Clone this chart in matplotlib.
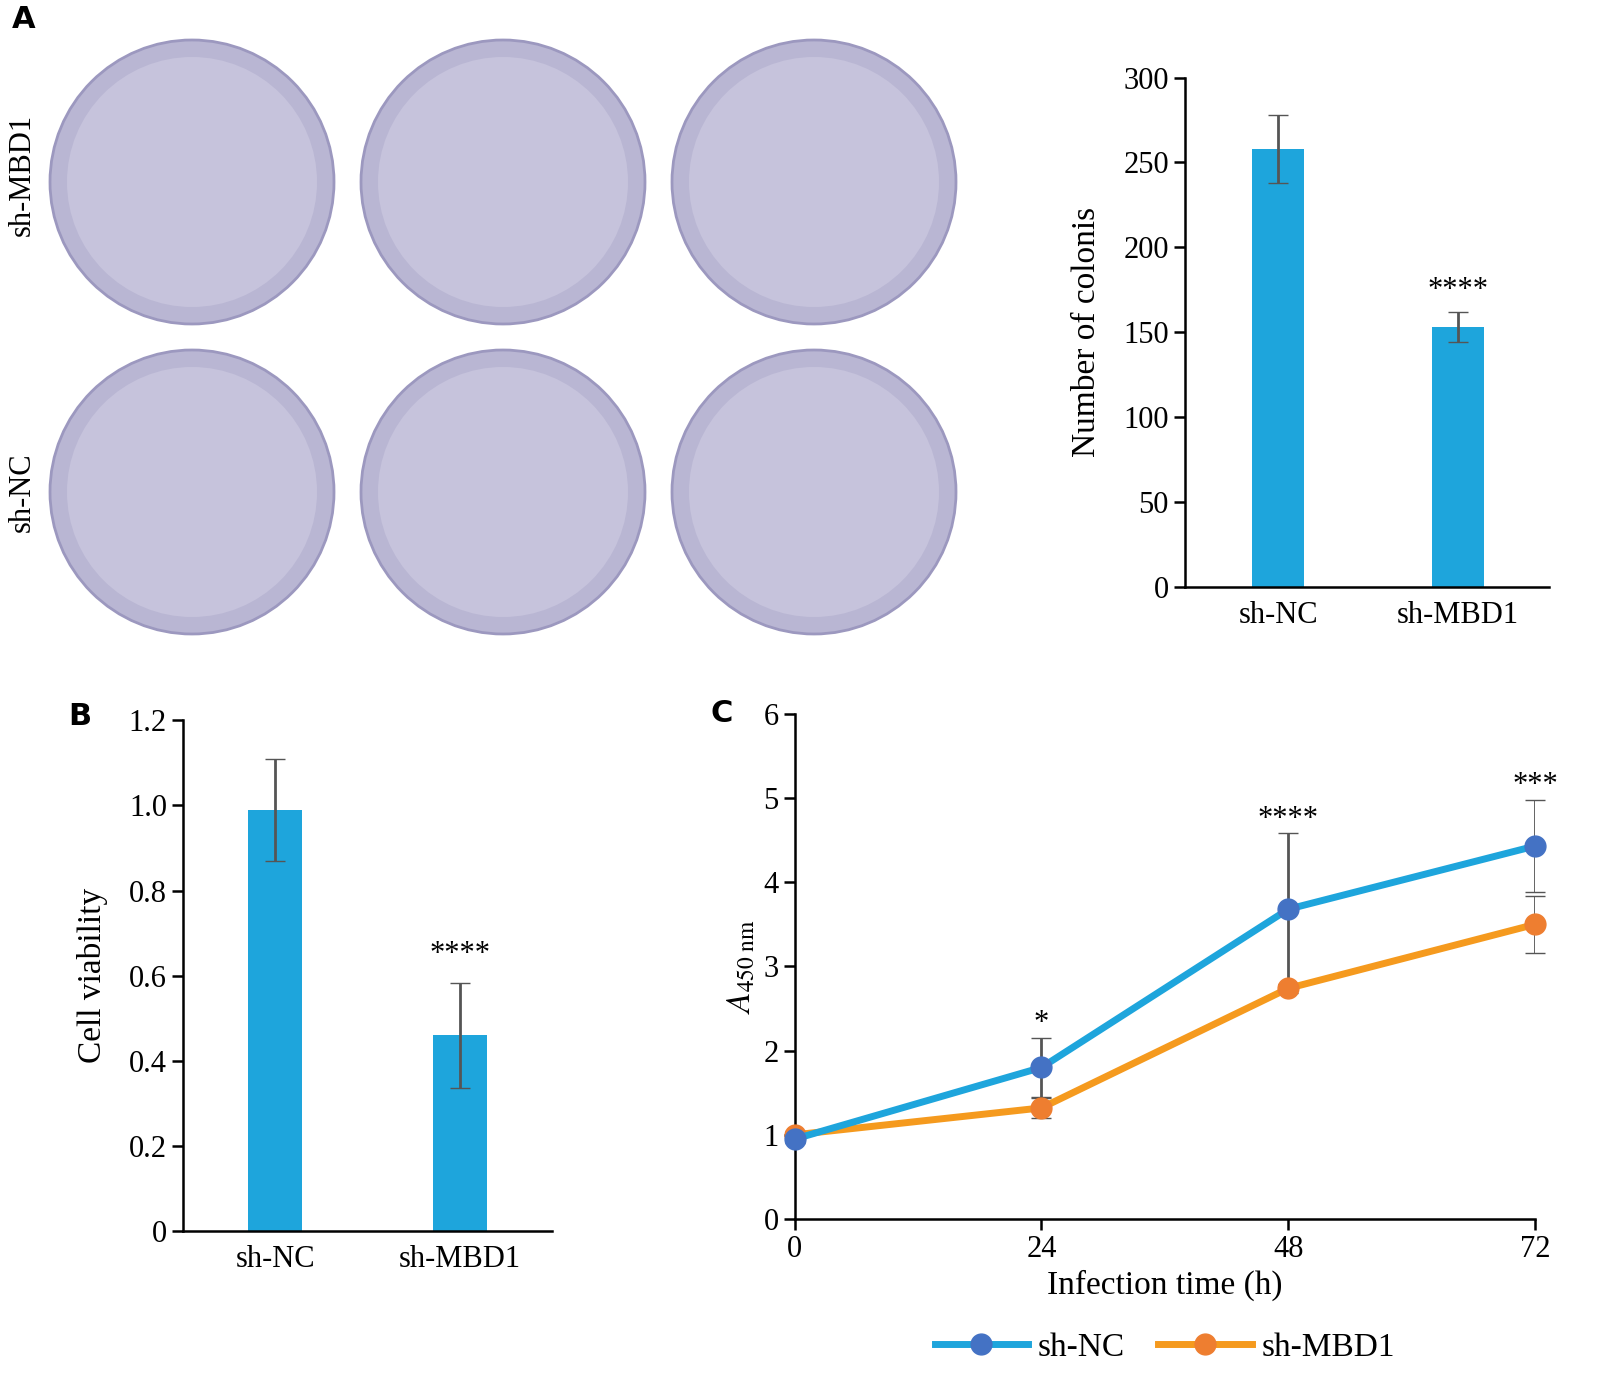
import matplotlib
matplotlib.use("Agg")
import matplotlib.pyplot as plt
from matplotlib.patches import Circle

plt.rcParams['font.family'] = ['Liberation Serif', 'DejaVu Serif']
plt.rcParams['mathtext.fontset'] = 'stix'
plt.rcParams['font.size'] = 20

# Panel A bars
groups = ["sh-NC", "sh-MBD1"]
colonies = [258, 153]
colonies_err = [20, 9]

# Panel B bars
viability = [0.99, 0.46]
viability_err = [0.12, 0.123]

# Panel C lines
hours = [0, 24, 48, 72]
nc_vals = [0.95, 1.80, 3.68, 4.43]
nc_err = [0.05, 0.35, 0.90, 0.55]
mbd_vals = [1.00, 1.32, 2.74, 3.50]
mbd_err = [0.05, 0.12, 0.05, 0.34]
c_stars = ["", "*", "****", "***"]

BAR = "#1EA5DC"
ERR = "#555555"

fig = plt.figure(figsize=(15.99, 13.84), dpi=100)

# plates (drawn, not photos)
axp = fig.add_axes([0, 0.5, 0.62, 0.5])
axp.set_xlim(0, 0.62 * 1599)
axp.set_ylim(692, 0)
axp.set_aspect("equal")
axp.axis("off")
for cy in (182, 492):
    for cx in (192, 503, 814):
        axp.add_patch(Circle((cx, cy), 142, facecolor="#b9b6d3", edgecolor="#9c98bf", lw=2))
        axp.add_patch(Circle((cx, cy), 125, facecolor="#c6c3dc", edgecolor="none"))
axp.text(22, 175, "sh-MBD1", rotation=90, ha="center", va="center", fontsize=22)
axp.text(22, 492, "sh-NC", rotation=90, ha="center", va="center", fontsize=22)
fig.text(12 / 1599, 1 - 20 / 1384, "A", fontsize=22, fontweight="bold", family="DejaVu Sans", va="center")
fig.text(68 / 1599, 1 - 716 / 1384, "B", fontsize=22, fontweight="bold", family="DejaVu Sans", va="center")
fig.text(710 / 1599, 1 - 714 / 1384, "C", fontsize=22, fontweight="bold", family="DejaVu Sans", va="center")

def style(ax):
    for s in ("top", "right"):
        ax.spines[s].set_visible(False)
    for s in ("left", "bottom"):
        ax.spines[s].set_linewidth(1.8)
    ax.tick_params(width=1.8, length=8, labelsize=22)

# A bar chart
ax1 = fig.add_axes([0.741, 0.576, 0.228, 0.368])
ax1.bar([0, 1], colonies, width=0.29, color=BAR)
ax1.errorbar([0, 1], colonies, yerr=colonies_err, fmt="none", ecolor=ERR, capsize=7, lw=2)
ax1.set_xlim(-0.52, 1.51)
ax1.set_ylim(0, 300)
ax1.set_yticks(range(0, 301, 50))
ax1.set_xticks([0, 1], groups)
ax1.set_ylabel("Number of colonis", fontsize=24, labelpad=15)
ax1.text(1, colonies[1] + colonies_err[1] + 8, "****", ha="center", fontsize=22)
style(ax1)
ax1.tick_params(axis="x", length=0, pad=10)

# B bar chart
ax2 = fig.add_axes([0.1144, 0.1105, 0.231, 0.369])
ax2.bar([0, 1], viability, width=0.29, color=BAR)
ax2.errorbar([0, 1], viability, yerr=viability_err, fmt="none", ecolor=ERR, capsize=7, lw=2)
ax2.set_xlim(-0.5, 1.5)
ax2.set_ylim(0, 1.2)
ax2.set_yticks([0, 0.2, 0.4, 0.6, 0.8, 1.0, 1.2], ["0", "0.2", "0.4", "0.6", "0.8", "1.0", "1.2"])
ax2.set_xticks([0, 1], groups)
ax2.set_ylabel("Cell viability", fontsize=24, labelpad=15)
ax2.text(1, viability[1] + viability_err[1] + 0.05, "****", ha="center", fontsize=22)
style(ax2)
ax2.tick_params(axis="x", length=0, pad=10)

# C line chart
ax3 = fig.add_axes([0.497, 0.1192, 0.463, 0.365])
ax3.errorbar(hours, mbd_vals, yerr=mbd_err, fmt="none", ecolor=ERR, capsize=7, lw=2, zorder=1)
ax3.errorbar(hours, nc_vals, yerr=nc_err, fmt="none", ecolor=ERR, capsize=7, lw=2, zorder=1)
ax3.plot(hours, mbd_vals, color="#F59A1E", lw=5, marker="o", ms=15, mfc="#EE7E30", mec="#EE7E30",
         label="sh-MBD1", zorder=3)
ax3.plot(hours, nc_vals, color="#1EA5DC", lw=5, marker="o", ms=15, mfc="#4472C4", mec="#4472C4",
         label="sh-NC", zorder=4)
for h, v, e, s in zip(hours, nc_vals, nc_err, c_stars):
    if s:
        ax3.text(h, v + e + 0.08, s, ha="center", fontsize=22)
ax3.set_xlim(0, 72)
ax3.set_ylim(0, 6)
ax3.set_xticks(hours)
ax3.set_xlabel("Infection time (h)", fontsize=24, labelpad=4)
ax3.set_ylabel(r"$A_{\mathrm{450\ nm}}$", fontsize=24)
for ln in ax3.lines:
    ln.set_clip_on(False)
style(ax3)
h, l = ax3.get_legend_handles_labels()
ax3.legend([h[1], h[0]], [l[1], l[0]], loc="upper center", bbox_to_anchor=(0.5, -0.165),
           ncol=2, frameon=False, fontsize=24, handlelength=2.8, columnspacing=1.0, handletextpad=0.3)

fig.savefig("out.png", dpi=100)
